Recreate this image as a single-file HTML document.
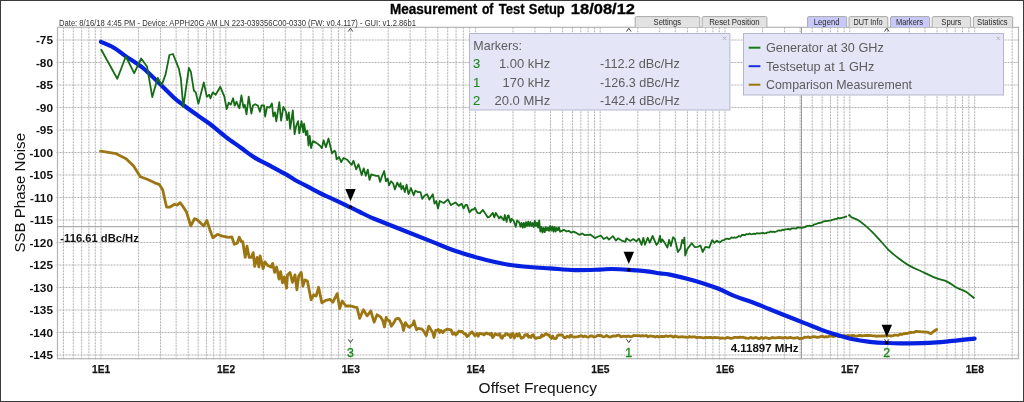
<!DOCTYPE html>
<html><head><meta charset="utf-8"><style>html,body{margin:0;padding:0;background:#fff;width:1024px;height:402px;overflow:hidden}svg{display:block;will-change:transform}</style></head>
<body><svg width="1024" height="402" viewBox="0 0 1024 402" font-family="Liberation Sans, sans-serif">
<rect x="0" y="0" width="1024" height="402" fill="#fff"/>
<g stroke="#b2b2b2" stroke-width="1" stroke-dasharray="2,1" fill="none"><line x1="63.43" y1="27.3" x2="63.43" y2="359.9"/><line x1="73.31" y1="27.3" x2="73.31" y2="359.9"/><line x1="81.67" y1="27.3" x2="81.67" y2="359.9"/><line x1="88.91" y1="27.3" x2="88.91" y2="359.9"/><line x1="95.29" y1="27.3" x2="95.29" y2="359.9"/><line x1="101.00" y1="27.3" x2="101.00" y2="359.9"/><line x1="138.57" y1="27.3" x2="138.57" y2="359.9"/><line x1="160.54" y1="27.3" x2="160.54" y2="359.9"/><line x1="176.14" y1="27.3" x2="176.14" y2="359.9"/><line x1="188.23" y1="27.3" x2="188.23" y2="359.9"/><line x1="198.11" y1="27.3" x2="198.11" y2="359.9"/><line x1="206.47" y1="27.3" x2="206.47" y2="359.9"/><line x1="213.71" y1="27.3" x2="213.71" y2="359.9"/><line x1="220.09" y1="27.3" x2="220.09" y2="359.9"/><line x1="225.80" y1="27.3" x2="225.80" y2="359.9"/><line x1="263.37" y1="27.3" x2="263.37" y2="359.9"/><line x1="285.34" y1="27.3" x2="285.34" y2="359.9"/><line x1="300.94" y1="27.3" x2="300.94" y2="359.9"/><line x1="313.03" y1="27.3" x2="313.03" y2="359.9"/><line x1="322.91" y1="27.3" x2="322.91" y2="359.9"/><line x1="331.27" y1="27.3" x2="331.27" y2="359.9"/><line x1="338.51" y1="27.3" x2="338.51" y2="359.9"/><line x1="344.89" y1="27.3" x2="344.89" y2="359.9"/><line x1="350.60" y1="27.3" x2="350.60" y2="359.9"/><line x1="388.17" y1="27.3" x2="388.17" y2="359.9"/><line x1="410.14" y1="27.3" x2="410.14" y2="359.9"/><line x1="425.74" y1="27.3" x2="425.74" y2="359.9"/><line x1="437.83" y1="27.3" x2="437.83" y2="359.9"/><line x1="447.71" y1="27.3" x2="447.71" y2="359.9"/><line x1="456.07" y1="27.3" x2="456.07" y2="359.9"/><line x1="463.31" y1="27.3" x2="463.31" y2="359.9"/><line x1="469.69" y1="27.3" x2="469.69" y2="359.9"/><line x1="475.40" y1="27.3" x2="475.40" y2="359.9"/><line x1="512.97" y1="27.3" x2="512.97" y2="359.9"/><line x1="534.94" y1="27.3" x2="534.94" y2="359.9"/><line x1="550.54" y1="27.3" x2="550.54" y2="359.9"/><line x1="562.63" y1="27.3" x2="562.63" y2="359.9"/><line x1="572.51" y1="27.3" x2="572.51" y2="359.9"/><line x1="580.87" y1="27.3" x2="580.87" y2="359.9"/><line x1="588.11" y1="27.3" x2="588.11" y2="359.9"/><line x1="594.49" y1="27.3" x2="594.49" y2="359.9"/><line x1="600.20" y1="27.3" x2="600.20" y2="359.9"/><line x1="637.77" y1="27.3" x2="637.77" y2="359.9"/><line x1="659.74" y1="27.3" x2="659.74" y2="359.9"/><line x1="675.34" y1="27.3" x2="675.34" y2="359.9"/><line x1="687.43" y1="27.3" x2="687.43" y2="359.9"/><line x1="697.31" y1="27.3" x2="697.31" y2="359.9"/><line x1="705.67" y1="27.3" x2="705.67" y2="359.9"/><line x1="712.91" y1="27.3" x2="712.91" y2="359.9"/><line x1="719.29" y1="27.3" x2="719.29" y2="359.9"/><line x1="725.00" y1="27.3" x2="725.00" y2="359.9"/><line x1="762.57" y1="27.3" x2="762.57" y2="359.9"/><line x1="784.54" y1="27.3" x2="784.54" y2="359.9"/><line x1="800.14" y1="27.3" x2="800.14" y2="359.9"/><line x1="812.23" y1="27.3" x2="812.23" y2="359.9"/><line x1="822.11" y1="27.3" x2="822.11" y2="359.9"/><line x1="830.47" y1="27.3" x2="830.47" y2="359.9"/><line x1="837.71" y1="27.3" x2="837.71" y2="359.9"/><line x1="844.09" y1="27.3" x2="844.09" y2="359.9"/><line x1="849.80" y1="27.3" x2="849.80" y2="359.9"/><line x1="887.37" y1="27.3" x2="887.37" y2="359.9"/><line x1="909.34" y1="27.3" x2="909.34" y2="359.9"/><line x1="924.94" y1="27.3" x2="924.94" y2="359.9"/><line x1="937.03" y1="27.3" x2="937.03" y2="359.9"/><line x1="946.91" y1="27.3" x2="946.91" y2="359.9"/><line x1="955.27" y1="27.3" x2="955.27" y2="359.9"/><line x1="962.51" y1="27.3" x2="962.51" y2="359.9"/><line x1="968.89" y1="27.3" x2="968.89" y2="359.9"/><line x1="974.60" y1="27.3" x2="974.60" y2="359.9"/><line x1="1012.17" y1="27.3" x2="1012.17" y2="359.9"/><line x1="56.5" y1="40.00" x2="1018.5" y2="40.00"/><line x1="56.5" y1="62.50" x2="1018.5" y2="62.50"/><line x1="56.5" y1="85.00" x2="1018.5" y2="85.00"/><line x1="56.5" y1="107.50" x2="1018.5" y2="107.50"/><line x1="56.5" y1="130.00" x2="1018.5" y2="130.00"/><line x1="56.5" y1="152.50" x2="1018.5" y2="152.50"/><line x1="56.5" y1="175.00" x2="1018.5" y2="175.00"/><line x1="56.5" y1="197.50" x2="1018.5" y2="197.50"/><line x1="56.5" y1="220.00" x2="1018.5" y2="220.00"/><line x1="56.5" y1="242.50" x2="1018.5" y2="242.50"/><line x1="56.5" y1="265.00" x2="1018.5" y2="265.00"/><line x1="56.5" y1="287.50" x2="1018.5" y2="287.50"/><line x1="56.5" y1="310.00" x2="1018.5" y2="310.00"/><line x1="56.5" y1="332.50" x2="1018.5" y2="332.50"/><line x1="56.5" y1="355.00" x2="1018.5" y2="355.00"/></g>
<rect x="57.5" y="27.3" width="961.0" height="331.4" fill="none" stroke="#b4b4b4" stroke-width="1.2"/>
<line x1="57.5" y1="226.7" x2="1018.5" y2="226.7" stroke="#9a9a9a" stroke-width="1"/><line x1="801.5" y1="27.3" x2="801.5" y2="358.7" stroke="#9a9a9a" stroke-width="1"/>
<path d="M348.2,31.6 L350.5,28.2 L352.8,31.6" fill="none" stroke="#444" stroke-width="1"/><path d="M348.2,339.2 L350.5,342.6 L352.8,339.2" fill="none" stroke="#444" stroke-width="1"/><path d="M626.5,31.6 L628.8,28.2 L631.0999999999999,31.6" fill="none" stroke="#444" stroke-width="1"/><path d="M626.5,339.2 L628.8,342.6 L631.0999999999999,339.2" fill="none" stroke="#444" stroke-width="1"/><path d="M884.5,31.6 L886.8,28.2 L889.0999999999999,31.6" fill="none" stroke="#444" stroke-width="1"/><path d="M884.5,339.2 L886.8,342.6 L889.0999999999999,339.2" fill="none" stroke="#444" stroke-width="1"/>
<path d="M100.5,151.2 L116.1,153.7 L126.1,158.7 L133.6,166.1 L140.3,176.8 L147.2,179.3 L154.7,182.8 L159.2,184.3 L162.7,189.8 L166.6,207.2 L169.6,207.2 L174.6,204.2 L177.1,205.2 L180.1,202.7 L182.6,205.9 L186.5,212.1 L190.8,225.8 L194.5,218.7 L197.5,219.9 L201.2,223.6 L203.7,226.1 L206.9,220.4 L209.9,229.9 L212.9,237.8 L217.4,234.3 L222.3,236.1 L228.6,237.3 L231.8,236.8 L234.3,244.3 L237.2,243.2 L239.2,237.2 L241.3,241.7 L242.8,241.7 L245.2,257.4 L247.0,246.2 L249.2,257.4 L251.4,257.4 L253.2,252.6 L254.7,266.4 L257.1,257.4 L258.9,267.1 L260.1,255.9 L263.1,268.6 L264.9,261.9 L267.9,265.6 L270.9,267.1 L272.7,263.4 L274.6,272.4 L276.6,267.1 L279.1,279.1 L280.6,271.6 L282.5,282.8 L284.3,276.9 L286.6,288.1 L287.5,274.9 L290.0,272.4 L292.5,282.4 L295.0,274.9 L296.9,289.8 L298.7,276.1 L301.2,272.4 L302.9,286.1 L304.9,279.9 L307.4,281.1 L311.1,299.8 L313.6,294.8 L316.1,296.0 L318.6,287.3 L321.8,302.8 L326.0,300.3 L329.8,299.3 L332.8,302.3 L337.2,293.6 L339.7,308.5 L342.2,301.0 L345.9,306.0 L350.9,306.0 L354.7,307.2 L357.1,307.7 L359.6,318.4 L363.4,309.7 L367.1,315.9 L370.8,311.0 L374.1,322.2 L377.0,314.7 L380.8,317.2 L382.6,320.2 L384.4,327.0 L386.1,317.5 L387.9,320.3 L389.6,320.9 L391.3,326.2 L393.9,322.7 L395.6,319.4 L397.4,318.3 L399.1,318.6 L400.9,321.8 L402.2,324.3 L403.5,330.5 L405.3,322.7 L407.9,326.2 L409.6,327.3 L411.4,325.3 L412.7,324.7 L414.0,320.9 L415.3,326.1 L416.6,329.7 L418.4,328.3 L420.1,328.8 L421.5,328.8 L423.0,330.2 L424.4,332.3 L426.2,335.7 L427.5,330.8 L428.8,326.2 L431.4,330.5 L432.7,332.5 L434.0,337.5 L435.7,330.5 L437.0,330.3 L438.4,329.5 L439.7,332.5 L441.0,330.5 L442.8,332.6 L444.5,330.5 L445.8,330.0 L447.1,329.1 L449.7,329.7 L451.2,329.9 L452.8,334.3 L454.3,332.8 L455.8,334.9 L457.3,333.4 L458.9,331.0 L460.4,331.8 L461.9,331.4 L463.2,332.6 L464.5,334.0 L465.8,334.0 L467.1,336.6 L468.9,334.9 L470.6,333.1 L472.0,331.8 L473.5,333.8 L474.9,335.7 L477.0,333.5 L478.2,336.2 L479.4,333.3 L480.6,333.3 L481.8,334.1 L483.0,333.8 L484.2,334.8 L485.4,333.3 L486.6,333.0 L487.8,333.8 L489.0,333.6 L490.2,334.9 L491.4,333.2 L492.6,337.6 L493.8,336.3 L495.0,333.9 L496.2,334.4 L497.4,334.9 L498.6,335.0 L499.8,333.8 L501.0,337.5 L502.2,338.3 L503.4,335.6 L504.6,335.7 L505.8,333.7 L507.0,333.8 L508.2,335.0 L509.4,334.6 L510.6,337.5 L511.8,334.1 L513.0,333.5 L514.2,338.1 L515.4,336.0 L516.6,334.1 L517.8,336.1 L519.0,333.6 L520.2,336.1 L521.4,338.3 L522.6,337.8 L523.8,336.9 L525.0,334.8 L526.2,335.3 L527.4,334.3 L528.6,337.3 L529.8,336.2 L531.0,337.4 L532.2,335.2 L533.4,334.7 L534.6,337.6 L535.8,338.5 L537.0,337.8 L538.2,337.6 L539.4,337.7 L540.6,337.3 L541.8,334.8 L543.0,336.2 L544.2,335.4 L545.4,333.9 L546.6,333.9 L547.8,335.1 L549.0,335.0 L550.2,337.1 L551.4,338.4 L552.6,336.0 L553.8,338.4 L555.0,338.6 L556.2,338.5 L557.4,335.6 L558.6,334.9 L559.8,335.0 L561.0,334.9 L562.2,335.0 L563.4,336.8 L564.6,337.9 L565.8,337.5 L567.0,336.2 L568.2,336.8 L569.4,337.2 L570.6,335.1 L572.4,336.7 L574.2,337.1 L576.0,336.8 L577.8,336.7 L579.6,336.2 L581.4,335.6 L583.2,336.8 L585.0,335.9 L586.8,336.8 L588.6,337.1 L590.4,336.0 L592.2,336.0 L594.0,337.0 L595.8,336.6 L597.6,335.5 L599.4,335.5 L601.2,335.5 L603.0,336.9 L604.8,336.7 L606.6,335.5 L608.4,336.7 L610.2,337.0 L612.0,336.4 L613.8,335.8 L615.6,336.2 L617.4,335.4 L619.2,335.2 L621.0,336.9 L622.8,336.3 L624.6,336.1 L626.4,336.8 L628.2,335.9 L630.0,336.7 L631.8,336.6 L633.6,335.5 L635.4,335.6 L637.2,335.7 L639.0,335.6 L640.8,336.2 L642.6,335.7 L644.4,336.0 L646.2,335.5 L648.0,336.8 L649.8,336.0 L651.6,336.2 L653.4,336.4 L655.2,337.0 L657.0,336.2 L658.8,337.1 L660.6,336.4 L662.4,336.5 L664.2,336.6 L666.0,335.8 L667.8,336.5 L669.6,336.1 L671.4,335.9 L673.2,337.2 L675.0,336.2 L676.8,336.7 L678.6,337.2 L680.4,336.9 L682.2,336.6 L684.0,337.0 L685.8,337.1 L687.6,337.4 L689.4,336.5 L691.2,337.2 L693.0,336.8 L694.8,336.8 L696.6,337.6 L698.4,337.3 L700.2,337.4 L702.0,337.7 L703.8,337.9 L705.6,337.3 L707.4,337.6 L709.2,337.5 L711.0,337.5 L712.8,337.8 L714.6,337.5 L716.4,337.7 L718.2,337.6 L720.0,338.3 L721.8,338.0 L723.6,338.2 L725.4,338.3 L727.2,337.4 L729.0,337.8 L730.8,338.3 L732.6,338.2 L734.4,337.3 L736.2,337.3 L738.0,337.7 L739.8,337.2 L741.6,337.4 L743.4,337.2 L745.2,338.0 L747.0,338.2 L748.8,338.3 L750.6,337.4 L752.4,338.1 L754.2,338.0 L756.0,337.4 L757.8,338.3 L759.6,338.5 L761.4,337.5 L763.2,338.4 L765.0,337.7 L766.8,337.9 L768.6,338.5 L770.4,338.3 L772.2,337.5 L774.0,337.8 L775.8,337.9 L777.6,337.7 L779.4,337.5 L781.2,337.7 L783.0,338.2 L784.8,337.3 L786.6,338.0 L788.4,337.9 L790.2,337.4 L792.0,337.8 L793.8,338.1 L795.6,338.0 L797.4,337.5 L799.2,338.6 L801.0,338.3 L802.8,338.4 L804.6,337.2 L806.4,337.3 L808.2,336.9 L810.0,337.7 L811.8,337.0 L813.6,336.7 L815.4,336.9 L817.2,337.4 L819.0,337.2 L820.8,336.5 L822.6,336.3 L824.4,337.2 L826.2,336.7 L828.0,336.8 L829.8,336.0 L831.6,335.9 L833.4,336.6 L835.2,336.2 L837.0,335.7 L838.8,336.7 L840.6,336.3 L842.4,336.4 L844.2,335.5 L846.0,336.3 L847.8,335.4 L849.6,336.2 L851.4,335.7 L853.2,335.5 L855.0,335.8 L856.8,336.2 L858.6,335.5 L860.4,335.4 L862.2,335.9 L864.0,335.6 L865.8,335.5 L867.6,335.5 L869.4,335.4 L871.2,335.6 L873.0,335.8 L874.8,335.8 L876.6,336.3 L878.4,335.8 L880.2,336.1 L882.0,335.8 L883.8,336.0 L885.6,335.7 L887.4,335.9 L889.2,335.5 L891.0,336.1 L892.8,335.7 L894.6,335.2 L896.4,335.2 L898.2,335.4 L900.0,334.1 L901.8,334.5 L903.6,333.8 L905.4,333.5 L907.2,333.5 L909.0,332.7 L910.8,332.5 L912.6,332.3 L914.4,332.3 L916.2,331.3 L918.0,331.6 L919.8,331.7 L921.6,331.9 L923.4,331.9 L925.2,332.1 L927.0,332.2 L928.8,332.7 L930.8,333.6 L933.5,331.5 L936.6,329.5" fill="none" stroke="#9c7612" stroke-width="2.8" stroke-linejoin="round" stroke-linecap="round"/><path d="M101.0,41.8 C103.2,42.8 109.9,45.4 113.9,47.7 C117.9,50.0 120.1,52.2 124.9,55.6 C129.7,59.0 137.2,63.3 142.8,67.8 C148.4,72.3 153.4,77.7 158.7,82.8 C164.0,87.9 170.6,94.6 174.6,98.3 C178.6,102.0 178.5,101.5 182.9,104.7 C187.3,107.9 196.3,114.4 200.8,117.6 C205.3,120.8 205.8,120.8 210.0,124.0 C214.2,127.2 220.5,132.8 225.7,136.8 C230.9,140.8 236.5,144.5 241.3,148.0 C246.1,151.5 249.8,154.6 254.7,157.6 C259.5,160.6 265.2,163.1 270.4,165.9 C275.6,168.7 282.0,172.1 286.1,174.4 C290.2,176.8 290.9,177.7 295.0,180.0 C299.1,182.3 305.5,185.5 310.7,188.2 C315.9,190.9 321.4,193.8 326.3,196.1 C331.2,198.4 336.1,200.5 340.0,202.3 C343.9,204.1 346.6,205.5 349.9,207.1 C353.2,208.7 355.5,209.9 359.9,212.0 C364.2,214.1 364.3,214.7 376.0,219.5 C387.7,224.3 416.9,235.7 430.0,240.9 C443.1,246.1 446.6,247.9 454.9,250.8 C463.2,253.7 471.5,256.1 479.8,258.3 C488.1,260.5 496.3,262.6 504.6,264.0 C512.9,265.4 522.0,266.3 529.5,267.0 C537.0,267.7 542.4,267.9 549.9,268.4 C557.4,268.9 566.5,269.9 574.8,270.1 C583.1,270.3 593.4,269.8 599.6,269.6 C605.8,269.4 607.1,268.9 612.0,269.0 C616.9,269.1 623.2,269.5 628.7,269.9 C634.2,270.3 639.7,270.6 644.9,271.2 C650.1,271.8 655.9,272.8 660.0,273.4 C664.1,274.0 664.0,273.4 669.8,274.6 C675.6,275.8 686.7,278.5 694.6,280.8 C702.5,283.1 710.7,285.8 717.4,288.3 C724.1,290.9 729.0,293.8 734.8,296.1 C740.6,298.4 746.5,300.0 752.3,302.2 C758.1,304.4 763.9,306.9 769.7,309.2 C775.5,311.5 781.3,313.9 787.1,316.2 C792.9,318.5 798.9,320.9 804.5,323.1 C810.1,325.3 815.9,327.7 820.9,329.6 C825.9,331.5 829.9,332.8 834.8,334.3 C839.7,335.8 844.7,337.4 850.5,338.7 C856.3,339.9 863.7,341.1 869.7,341.8 C875.8,342.5 881.8,342.8 886.8,343.0 C891.8,343.2 894.1,343.3 900.0,343.3 C905.9,343.3 915.8,343.4 922.0,343.2 C928.2,343.0 932.7,342.7 937.3,342.4 C941.9,342.1 945.7,341.6 949.8,341.2 C953.9,340.8 957.9,340.3 962.0,339.9 C966.1,339.5 972.5,338.8 974.6,338.6" fill="none" stroke="#0620e0" stroke-width="4.2" stroke-linejoin="round" stroke-linecap="round"/><path d="M101.0,49.3 L117.3,78.8 L125.8,56.5 L134.2,73.2 L141.2,58.5 L147.1,66.8 L152.3,97.1 L157.7,77.8 L161.7,85.1 L165.6,74.4 L169.4,55.0 L173.0,54.0 L178.9,68.9 L180.9,78.8 L183.3,107.1 L188.9,67.9 L190.9,71.9 L193.9,90.8 L195.8,92.4 L198.4,103.7 L203.8,82.4 L206.8,96.7 L209.2,94.8 L210.4,98.3 L212.8,92.4 L215.7,94.8 L220.3,86.8 L224.3,96.3 L226.7,109.1 L228.7,102.7 L230.7,104.7 L233.1,98.3 L234.7,105.7 L236.6,101.7 L238.0,105.5 L239.4,108.3 L241.4,95.3 L243.5,107.6 L244.8,104.8 L246.5,114.4 L248.7,96.6 L251.4,113.7 L253.0,105.5 L255.1,104.2 L257.8,105.5 L259.9,111.7 L261.5,105.5 L264.0,105.5 L265.1,116.5 L267.0,106.9 L269.7,107.6 L271.9,103.5 L273.3,116.5 L274.9,112.4 L276.3,121.3 L277.7,112.4 L279.3,102.1 L281.1,120.6 L283.4,106.9 L285.9,111.7 L287.1,120.2 L288.8,112.4 L290.2,128.9 L292.8,110.3 L294.6,134.2 L296.3,125.5 L298.1,121.1 L299.3,133.3 L301.5,121.1 L303.3,132.4 L304.1,123.7 L305.9,135.0 L307.3,130.7 L308.5,145.5 L309.7,135.9 L311.1,148.1 L312.9,141.1 L316.3,142.9 L319.8,145.5 L321.9,148.1 L323.6,140.3 L325.9,147.2 L328.5,138.5 L332.0,153.3 L334.6,150.7 L335.5,152.0 L336.6,159.4 L339.1,157.0 L341.2,162.1 L343.5,158.0 L347.3,159.8 L351.7,164.8 L353.5,160.7 L356.2,169.4 L358.5,164.2 L361.7,175.1 L363.7,168.3 L365.8,175.8 L367.8,169.6 L369.5,179.9 L371.3,174.4 L376.0,175.8 L378.5,175.8 L380.1,181.9 L382.2,175.8 L384.2,171.0 L385.9,181.3 L387.7,178.5 L389.0,185.4 L391.1,181.3 L393.1,183.3 L394.9,189.5 L397.2,182.6 L399.3,186.7 L400.5,183.2 L401.4,189.4 L403.0,185.9 L404.8,192.1 L406.6,184.6 L408.5,194.2 L410.9,188.0 L413.7,195.2 L415.3,190.7 L418.1,192.1 L420.5,192.1 L422.2,198.9 L424.6,195.5 L427.1,194.2 L429.4,199.6 L432.8,194.2 L434.5,203.7 L436.3,201.0 L438.0,208.5 L439.7,201.0 L443.8,203.0 L447.9,199.4 L450.9,205.1 L455.4,202.4 L458.8,205.8 L461.6,203.7 L463.6,208.5 L465.5,204.9 L467.0,204.9 L469.5,212.4 L472.0,209.4 L473.4,209.7 L474.9,207.7 L477.4,212.9 L479.9,213.4 L482.9,209.9 L487.9,217.4 L489.4,216.9 L492.8,212.9 L494.3,217.4 L495.8,212.9 L499.3,218.4 L500.8,216.4 L503.8,220.3 L504.8,214.9 L506.6,221.8 L507.7,215.9 L508.7,215.4 L510.5,222.3 L511.7,218.9 L513.7,220.8 L515.7,226.8 L517.2,220.4 L519.2,222.3 L520.5,226.7 L521.6,222.8 L522.7,227.7 L523.8,223.0 L524.9,227.3 L526.0,222.2 L527.1,225.9 L528.2,221.7 L529.3,225.9 L530.4,222.0 L531.5,226.0 L532.6,223.0 L533.7,227.0 L534.8,220.8 L535.9,226.1 L537.0,222.6 L538.1,227.6 L539.2,220.5 L540.3,231.5 L541.4,226.9 L542.5,232.5 L543.6,227.8 L544.7,232.2 L545.8,227.2 L546.9,230.4 L548.0,227.6 L549.1,230.9 L550.2,225.9 L551.3,230.5 L552.4,226.5 L553.5,231.7 L554.6,227.0 L555.7,231.5 L556.8,227.8 L557.9,230.2 L559.0,227.4 L560.1,231.8 L561.8,230.9 L564.0,229.8 L566.5,231.5 L568.7,230.8 L571.0,232.6 L573.5,231.6 L575.7,232.6 L579.2,234.8 L582.2,233.5 L584.8,235.2 L590.2,234.6 L595.0,238.1 L598.1,236.5 L601.1,235.7 L603.7,239.0 L606.8,237.2 L608.9,239.6 L612.9,236.1 L615.9,240.5 L618.1,238.3 L622.4,240.9 L625.5,241.8 L626.3,238.3 L630.3,240.9 L633.3,239.1 L636.3,241.3 L639.0,238.7 L641.6,244.8 L643.3,237.8 L645.0,244.8 L647.7,237.8 L649.8,242.6 L652.6,235.9 L654.4,240.2 L656.5,245.0 L658.3,242.4 L660.0,235.9 L660.9,242.4 L662.2,239.4 L664.4,242.4 L667.4,247.6 L669.1,239.8 L670.9,245.9 L673.1,237.2 L674.8,238.9 L676.1,244.1 L677.9,252.0 L680.5,248.5 L682.2,239.8 L683.5,243.3 L684.4,237.6 L685.2,255.5 L687.4,248.9 L691.8,243.3 L694.8,247.2 L697.9,246.8 L700.5,245.5 L702.7,252.0 L705.3,246.8 L709.2,247.6 L712.2,240.2 L714.4,242.8 L717.0,240.7 L719.6,242.4 L721.0,241.4 L722.5,240.3 L724.0,240.1 L725.5,239.1 L727.0,238.5 L728.5,239.2 L730.0,238.7 L731.5,237.4 L733.0,237.8 L734.5,237.4 L736.0,237.8 L737.5,237.1 L739.0,235.9 L740.5,236.8 L742.0,234.8 L743.5,235.0 L745.0,235.2 L746.5,234.0 L748.0,234.4 L749.5,233.4 L751.0,234.3 L752.5,234.2 L754.0,233.7 L755.5,234.0 L757.0,233.1 L758.5,233.5 L760.0,233.3 L761.5,233.1 L763.0,232.9 L764.5,233.3 L766.0,233.2 L767.5,232.4 L769.0,232.4 L770.5,231.4 L772.0,232.0 L773.5,231.7 L775.0,232.0 L776.5,231.5 L778.0,230.6 L779.5,230.5 L781.0,230.7 L782.5,229.7 L784.0,230.0 L785.5,229.4 L787.0,229.2 L788.5,228.9 L790.0,229.6 L791.5,228.5 L793.0,228.4 L794.5,228.4 L796.0,228.7 L797.5,227.5 L799.0,227.7 L800.5,227.6 L802.0,227.8 L803.5,227.4 L805.0,227.2 L806.5,226.1 L808.0,226.0 L809.5,225.6 L811.0,226.0 L812.5,225.7 L814.0,224.5 L815.5,224.1 L817.0,223.6 L818.5,223.0 L820.0,222.8 L821.5,222.5 L823.0,221.8 L824.5,221.1 L826.0,221.2 L827.5,220.8 L829.0,220.6 L830.5,220.6 L832.0,220.0 L833.5,219.5 L835.0,219.2 L836.5,218.9 L838.0,217.9 L839.5,218.4 L841.0,218.0 L842.5,217.7 L844.0,217.4 L845.5,216.6 L847.0,216.3" fill="none" stroke="#166c16" stroke-width="1.8" stroke-linejoin="round"/><path d="M848.6,216.1 C848.8,215.9 849.1,214.8 849.5,215.0 C849.9,215.2 850.9,216.8 851.2,217.2 M851.2,217.2  C852.5,217.7 856.0,218.7 858.7,220.4 C861.4,222.1 864.3,224.6 867.4,227.4 C870.5,230.2 873.8,233.6 877.3,237.3 C880.8,241.0 885.2,246.5 888.5,249.8 C891.8,253.1 893.7,254.5 897.2,257.2 C900.7,259.9 905.6,263.5 909.7,265.9 C913.9,268.3 917.6,269.6 922.1,271.7 C926.6,273.8 932.9,276.8 937.0,278.4 C941.1,280.0 943.7,280.0 947.0,281.6 C950.3,283.2 953.8,286.1 956.9,287.8 C960.0,289.5 962.7,289.9 965.6,291.6 C968.5,293.4 972.8,297.2 974.3,298.3" fill="none" stroke="#166c16" stroke-width="1.8" stroke-linejoin="round"/>
<path d="M345.3,188.89999999999998 L355.7,188.89999999999998 L350.5,201.2 Z" fill="#000"/><circle cx="350.5" cy="206.89999999999998" r="1.7" fill="#000"/><text x="350.5" y="356.9" font-size="12.4" font-weight="normal" fill="#1a8a1a" text-anchor="middle" stroke="#1a8a1a" stroke-width="0.35">3</text><path d="M623.5999999999999,251.8 L634.0,251.8 L628.8,264.1 Z" fill="#000"/><circle cx="628.8" cy="269.8" r="1.7" fill="#000"/><text x="628.8" y="356.9" font-size="12.4" font-weight="normal" fill="#1a8a1a" text-anchor="middle" stroke="#1a8a1a" stroke-width="0.35">1</text><path d="M881.5999999999999,324.7 L892.0,324.7 L886.8,337.0 Z" fill="#000"/><circle cx="886.8" cy="342.7" r="1.7" fill="#000"/><text x="886.8" y="356.9" font-size="12.4" font-weight="normal" fill="#1a8a1a" text-anchor="middle" stroke="#1a8a1a" stroke-width="0.35">2</text>
<text x="60.3" y="241.8" font-size="11.8" font-weight="bold" fill="#111" text-anchor="start" textLength="78.5" lengthAdjust="spacingAndGlyphs" >-116.61 dBc/Hz</text><text x="730.7" y="351.7" font-size="11.6" font-weight="bold" fill="#111" text-anchor="start" textLength="67.8" lengthAdjust="spacingAndGlyphs" >4.11897 MHz</text>
<path d="M635.2,27.3 L635.2,18 Q635.2,16.6 636.6,16.6 L698.4,16.6 Q699.8,16.6 699.8,18 L699.8,27.3" fill="#e2e2e2" stroke="#a8a8a8" stroke-width="1"/><text x="653.5999999999999" y="24.9" font-size="8.4" font-weight="normal" fill="#2a2a2a" text-anchor="start" textLength="27.4" lengthAdjust="spacingAndGlyphs" >Settings</text><path d="M702.2,27.3 L702.2,18 Q702.2,16.6 703.6,16.6 L765.5,16.6 Q766.9,16.6 766.9,18 L766.9,27.3" fill="#e2e2e2" stroke="#a8a8a8" stroke-width="1"/><text x="709.1999999999999" y="24.9" font-size="8.4" font-weight="normal" fill="#2a2a2a" text-anchor="start" textLength="50.5" lengthAdjust="spacingAndGlyphs" >Reset Position</text><path d="M807.6,27.3 L807.6,18 Q807.6,16.6 809.0,16.6 L845.3000000000001,16.6 Q846.7,16.6 846.7,18 L846.7,27.3" fill="#c8c8fa" stroke="#a8a8a8" stroke-width="1"/><text x="813.8" y="24.9" font-size="8.4" font-weight="normal" fill="#2a2a2a" text-anchor="start" textLength="25.7" lengthAdjust="spacingAndGlyphs" >Legend</text><path d="M849,27.3 L849,18 Q849,16.6 850.4,16.6 L886.4,16.6 Q887.8,16.6 887.8,18 L887.8,27.3" fill="#e2e2e2" stroke="#a8a8a8" stroke-width="1"/><text x="853.4" y="24.9" font-size="8.4" font-weight="normal" fill="#2a2a2a" text-anchor="start" textLength="29.099999999999998" lengthAdjust="spacingAndGlyphs" >DUT Info</text><path d="M890.6,27.3 L890.6,18 Q890.6,16.6 892.0,16.6 L928.3000000000001,16.6 Q929.7,16.6 929.7,18 L929.7,27.3" fill="#c8c8fa" stroke="#a8a8a8" stroke-width="1"/><text x="895.9" y="24.9" font-size="8.4" font-weight="normal" fill="#2a2a2a" text-anchor="start" textLength="27.2" lengthAdjust="spacingAndGlyphs" >Markers</text><path d="M932.2,27.3 L932.2,18 Q932.2,16.6 933.6,16.6 L969.3000000000001,16.6 Q970.7,16.6 970.7,18 L970.7,27.3" fill="#e2e2e2" stroke="#a8a8a8" stroke-width="1"/><text x="941.3" y="24.9" font-size="8.4" font-weight="normal" fill="#2a2a2a" text-anchor="start" textLength="20.0" lengthAdjust="spacingAndGlyphs" >Spurs</text><path d="M973.4,27.3 L973.4,18 Q973.4,16.6 974.8,16.6 L1011.3000000000001,16.6 Q1012.7,16.6 1012.7,18 L1012.7,27.3" fill="#e2e2e2" stroke="#a8a8a8" stroke-width="1"/><text x="977.0999999999999" y="24.9" font-size="8.4" font-weight="normal" fill="#2a2a2a" text-anchor="start" textLength="30.599999999999998" lengthAdjust="spacingAndGlyphs" >Statistics</text>
<text x="390.0" y="13.8" font-size="14" font-weight="bold" fill="#000" text-anchor="start" textLength="87.3" lengthAdjust="spacingAndGlyphs" stroke="#000" stroke-width="0.3">Measurement</text><text x="481.90000000000003" y="13.8" font-size="14" font-weight="bold" fill="#000" text-anchor="start" textLength="11.5" lengthAdjust="spacingAndGlyphs" stroke="#000" stroke-width="0.3">of</text><text x="498.7" y="13.8" font-size="14" font-weight="bold" fill="#000" text-anchor="start" textLength="25.8" lengthAdjust="spacingAndGlyphs" stroke="#000" stroke-width="0.3">Test</text><text x="528.8" y="13.8" font-size="14" font-weight="bold" fill="#000" text-anchor="start" textLength="35.9" lengthAdjust="spacingAndGlyphs" stroke="#000" stroke-width="0.3">Setup</text><text x="570.8" y="13.8" font-size="14" font-weight="bold" fill="#000" text-anchor="start" textLength="64.2" lengthAdjust="spacingAndGlyphs" stroke="#000" stroke-width="0.3">18/08/12</text><text x="59" y="25.7" font-size="8.7" font-weight="normal" fill="#333" text-anchor="start" textLength="357" lengthAdjust="spacingAndGlyphs" >Date: 8/16/18 4:45 PM - Device: APPH20G AM LN 223-039356C00-0330 (FW: v0.4.117) - GUI: v1.2.86b1</text><text x="53.0" y="44.4" font-size="11.8" font-weight="bold" fill="#111" text-anchor="end" >-75</text><text x="53.0" y="66.9" font-size="11.8" font-weight="bold" fill="#111" text-anchor="end" >-80</text><text x="53.0" y="89.4" font-size="11.8" font-weight="bold" fill="#111" text-anchor="end" >-85</text><text x="53.0" y="111.9" font-size="11.8" font-weight="bold" fill="#111" text-anchor="end" >-90</text><text x="53.0" y="134.4" font-size="11.8" font-weight="bold" fill="#111" text-anchor="end" >-95</text><text x="53.0" y="156.9" font-size="11.8" font-weight="bold" fill="#111" text-anchor="end" >-100</text><text x="53.0" y="179.4" font-size="11.8" font-weight="bold" fill="#111" text-anchor="end" >-105</text><text x="53.0" y="201.9" font-size="11.8" font-weight="bold" fill="#111" text-anchor="end" >-110</text><text x="53.0" y="224.4" font-size="11.8" font-weight="bold" fill="#111" text-anchor="end" >-115</text><text x="53.0" y="246.9" font-size="11.8" font-weight="bold" fill="#111" text-anchor="end" >-120</text><text x="53.0" y="269.4" font-size="11.8" font-weight="bold" fill="#111" text-anchor="end" >-125</text><text x="53.0" y="291.9" font-size="11.8" font-weight="bold" fill="#111" text-anchor="end" >-130</text><text x="53.0" y="314.4" font-size="11.8" font-weight="bold" fill="#111" text-anchor="end" >-135</text><text x="53.0" y="336.9" font-size="11.8" font-weight="bold" fill="#111" text-anchor="end" >-140</text><text x="53.0" y="359.4" font-size="11.8" font-weight="bold" fill="#111" text-anchor="end" >-145</text><text x="92.1" y="372.8" font-size="11.3" font-weight="bold" fill="#151515" text-anchor="start" textLength="18.2" lengthAdjust="spacingAndGlyphs" stroke="#151515" stroke-width="0.25">1E1</text><text x="216.9" y="372.8" font-size="11.3" font-weight="bold" fill="#151515" text-anchor="start" textLength="18.2" lengthAdjust="spacingAndGlyphs" stroke="#151515" stroke-width="0.25">1E2</text><text x="341.70000000000005" y="372.8" font-size="11.3" font-weight="bold" fill="#151515" text-anchor="start" textLength="18.2" lengthAdjust="spacingAndGlyphs" stroke="#151515" stroke-width="0.25">1E3</text><text x="466.5" y="372.8" font-size="11.3" font-weight="bold" fill="#151515" text-anchor="start" textLength="18.2" lengthAdjust="spacingAndGlyphs" stroke="#151515" stroke-width="0.25">1E4</text><text x="591.3000000000001" y="372.8" font-size="11.3" font-weight="bold" fill="#151515" text-anchor="start" textLength="18.2" lengthAdjust="spacingAndGlyphs" stroke="#151515" stroke-width="0.25">1E5</text><text x="716.1" y="372.8" font-size="11.3" font-weight="bold" fill="#151515" text-anchor="start" textLength="18.2" lengthAdjust="spacingAndGlyphs" stroke="#151515" stroke-width="0.25">1E6</text><text x="840.9" y="372.8" font-size="11.3" font-weight="bold" fill="#151515" text-anchor="start" textLength="18.2" lengthAdjust="spacingAndGlyphs" stroke="#151515" stroke-width="0.25">1E7</text><text x="965.7" y="372.8" font-size="11.3" font-weight="bold" fill="#151515" text-anchor="start" textLength="18.2" lengthAdjust="spacingAndGlyphs" stroke="#151515" stroke-width="0.25">1E8</text><text x="478.6" y="393" font-size="15.2" font-weight="normal" fill="#111" text-anchor="start" textLength="118.4" lengthAdjust="spacingAndGlyphs" >Offset Frequency</text><text transform="translate(25.2,252.5) rotate(-90)" font-size="15.2" fill="#111" textLength="119.5" lengthAdjust="spacingAndGlyphs">SSB Phase Noise</text>
<rect x="469.5" y="33.5" width="260.4" height="76.5" fill="#e4e6f8" stroke="#b4b8cc" stroke-width="1"/><path d="M722.8,36.6 L726.2,40 M726.2,36.6 L722.8,40" stroke="#aaa" stroke-width="0.8"/><text x="473.3" y="49.9" font-size="13" font-weight="normal" fill="#5c5c5c" text-anchor="start" textLength="48.6" lengthAdjust="spacingAndGlyphs" >Markers:</text><text x="473" y="68.3" font-size="13" font-weight="normal" fill="#1a8a1a" text-anchor="start" stroke="#1a8a1a" stroke-width="0.1">3</text><text x="550.2" y="68.3" font-size="13" font-weight="normal" fill="#5c5c5c" text-anchor="end" >1.00 kHz</text><text x="600" y="68.3" font-size="13" font-weight="normal" fill="#5c5c5c" text-anchor="start" textLength="79.8" lengthAdjust="spacingAndGlyphs" >-112.2 dBc/Hz</text><text x="473" y="86.8" font-size="13" font-weight="normal" fill="#1a8a1a" text-anchor="start" stroke="#1a8a1a" stroke-width="0.1">1</text><text x="550.2" y="86.8" font-size="13" font-weight="normal" fill="#5c5c5c" text-anchor="end" >170 kHz</text><text x="600" y="86.8" font-size="13" font-weight="normal" fill="#5c5c5c" text-anchor="start" textLength="79.8" lengthAdjust="spacingAndGlyphs" >-126.3 dBc/Hz</text><text x="473" y="105.1" font-size="13" font-weight="normal" fill="#1a8a1a" text-anchor="start" stroke="#1a8a1a" stroke-width="0.1">2</text><text x="550.2" y="105.1" font-size="13" font-weight="normal" fill="#5c5c5c" text-anchor="end" >20.0 MHz</text><text x="600" y="105.1" font-size="13" font-weight="normal" fill="#5c5c5c" text-anchor="start" textLength="79.8" lengthAdjust="spacingAndGlyphs" >-142.4 dBc/Hz</text><rect x="743.5" y="33.5" width="260" height="61.5" fill="#e4e6f8" stroke="#b4b8cc" stroke-width="1"/><path d="M996.6,36.6 L1000,40 M1000,36.6 L996.6,40" stroke="#aaa" stroke-width="0.8"/><rect x="748.7" y="46.7" width="11.7" height="2" fill="#177a17"/><text x="766" y="52.1" font-size="13" font-weight="normal" fill="#5c5c5c" text-anchor="start" textLength="117.8" lengthAdjust="spacingAndGlyphs" >Generator at 30 GHz</text><rect x="748.7" y="65.19999999999999" width="11.7" height="2" fill="#1a2ee0"/><text x="766" y="70.6" font-size="13" font-weight="normal" fill="#5c5c5c" text-anchor="start" textLength="108.4" lengthAdjust="spacingAndGlyphs" >Testsetup at 1 GHz</text><rect x="748.7" y="83.69999999999999" width="11.7" height="2" fill="#9a7410"/><text x="766" y="89.1" font-size="13" font-weight="normal" fill="#5c5c5c" text-anchor="start" textLength="146.0" lengthAdjust="spacingAndGlyphs" >Comparison Measurement</text>
<rect x="0.5" y="0.5" width="1023" height="401" fill="none" stroke="#3a3a3a" stroke-width="1"/>
</svg></body></html>
